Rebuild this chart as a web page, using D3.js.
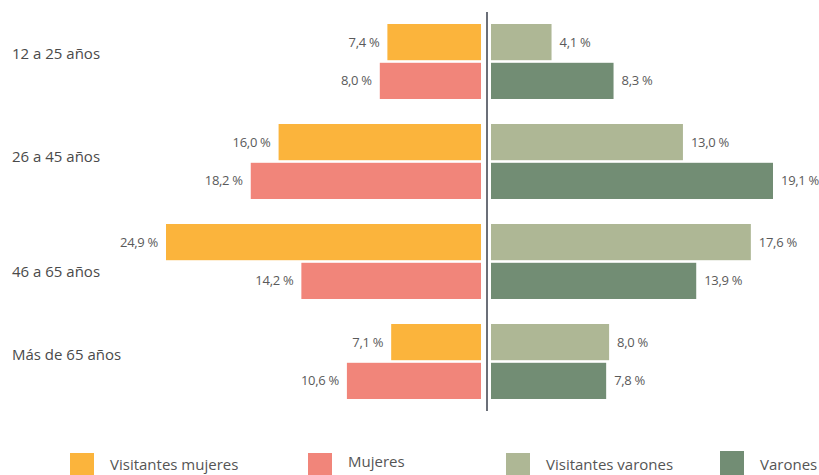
<!DOCTYPE html>
<html><head><meta charset="utf-8">
<script src="https://cdn.jsdelivr.net/npm/d3@7"></script>
<style>body{margin:0;background:#fff}svg{display:block}</style>
</head><body>
<svg id="c" width="819" height="475"></svg>
<script>
const categories = ["12 a 25 años", "26 a 45 años", "46 a 65 años", "Más de 65 años"];
const visitantesMujeres = [7.4, 16.0, 24.9, 7.1];
const mujeres = [8.0, 18.2, 14.2, 10.6];
const visitantesVarones = [4.1, 13.0, 17.6, 8.0];
const varones = [8.3, 19.1, 13.9, 7.8];
const seriesNames = ["Visitantes mujeres", "Mujeres", "Visitantes varones", "Varones"];
const seriesColors = ["#FBB43C", "#F1857A", "#AEB795", "#728D74"];

const svg = d3.select("#c");
const fmt = v => d3.format(".1f")(v).replace(".", ",") + " %";
const font = "'Open Sans', sans-serif";

const cx = 487;
const xL = d3.scaleLinear().domain([0, 24.9]).range([481, 166]);
const xR = d3.scaleLinear().domain([0, 19.1]).range([491, 773]);
const y = d3.scaleBand().domain(categories).range([11.5, 411.5]).paddingInner(0).paddingOuter(0);
const sub = d3.scaleBand().domain([0, 1]).range([12.5, 87.5]).paddingInner(5/75);
const labelDy = [-6.5, -3.5, 11, -6];

const rows = categories.map((c, i) => ({c, i, vm: visitantesMujeres[i], m: mujeres[i], vv: visitantesVarones[i], v: varones[i]}));

const g = svg.append("g");
function drawSide(key, slot, color, side) {
  const sc = side === "L" ? xL : xR;
  g.selectAll(null).data(rows).enter().append("rect")
    .attr("x", d => side === "L" ? sc(d[key]) : sc(0))
    .attr("width", d => Math.abs(sc(d[key]) - sc(0)))
    .attr("y", d => y(d.c) + sub(slot))
    .attr("height", sub.bandwidth())
    .attr("fill", color);
  g.selectAll(null).data(rows).enter().append("text")
    .attr("x", d => side === "L" ? sc(d[key]) - 8 : sc(d[key]) + 8)
    .attr("y", d => y(d.c) + sub(slot) + sub.bandwidth() / 2 + 1)
    .attr("text-anchor", side === "L" ? "end" : "start")
    .attr("dominant-baseline", "middle")
    .attr("font-family", font).attr("font-size", 13).attr("fill", "#5a5a5a")
    .attr("letter-spacing", "-0.3")
    .text(d => fmt(d[key]));
}
drawSide("vm", 0, seriesColors[0], "L");
drawSide("m", 1, seriesColors[1], "L");
drawSide("vv", 0, seriesColors[2], "R");
drawSide("v", 1, seriesColors[3], "R");

g.append("line").attr("x1", cx).attr("x2", cx).attr("y1", 12).attr("y2", 411)
  .attr("stroke", "#6b6f78").attr("stroke-width", 2);

g.selectAll(null).data(rows).enter().append("text")
  .attr("x", 12)
  .attr("y", d => y(d.c) + y.bandwidth() / 2 + labelDy[d.i])
  .attr("dominant-baseline", "middle")
  .attr("font-family", font).attr("font-size", 15).attr("fill", "#4a4a4a")
  .text(d => d.c);

const legX = [70, 308, 506, 720];
const legY = [453, 453, 453, 451];
const legTY = [466, 463, 466, 466];
const lg = svg.append("g");
seriesNames.forEach((n, i) => {
  lg.append("rect").attr("x", legX[i]).attr("y", legY[i]).attr("width", 24).attr("height", 26).attr("fill", seriesColors[i]);
  lg.append("text").attr("x", legX[i] + 40).attr("y", legTY[i]).attr("dominant-baseline", "middle")
    .attr("font-family", font).attr("font-size", 15).attr("fill", "#555").text(n);
});
</script>
</body></html>
